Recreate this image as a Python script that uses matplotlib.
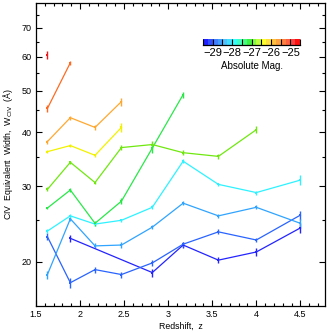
import numpy as np
import matplotlib
matplotlib.use("Agg")
import matplotlib.pyplot as plt
from matplotlib.colors import ListedColormap, BoundaryNorm
from matplotlib.ticker import FixedLocator, NullFormatter, FuncFormatter
import matplotlib.colorbar as mcolorbar

plt.rcParams['font.family'] = ['Liberation Sans', 'DejaVu Sans']

nan = np.nan
redshift = [1.63, 1.89, 2.17, 2.47, 2.82, 3.17, 3.57, 4.00, 4.50]

# absolute magnitude bins (colour) for each series
mags = [-29.25, -28.75, -28.25, -27.75, -27.25, -26.75, -26.25, -25.75, -25.25, -24.75]
series_colors = ['#2424ff', '#2a64ff', '#30a4ff', '#2ef2ff', '#28e848',
                 '#70e810', '#f2f200', '#ffa830', '#ff6a20', '#f01818']

w_darkblue = [nan, 22.7, nan, nan, 18.9, 21.9, 20.2, 21.1, 24.0]
e_darkblue = [nan, 0.4, nan, nan, 0.4, 0.3, 0.3, 0.4, 0.6]
w_blue = [22.9, 17.9, 19.2, 18.7, 19.9, 22.0, 23.5, 22.5, 25.7]
e_blue = [0.4, 0.5, 0.3, 0.3, 0.3, 0.3, 0.3, 0.3, 0.6]
w_skyblue = [18.7, 25.2, 21.8, 21.9, 24.1, 27.4, 25.6, 26.8, 24.6]
e_skyblue = [0.4, 0.3, 0.3, 0.3, 0.3, 0.3, 0.3, 0.3, 0.6]
w_cyan = [23.6, 25.6, 24.5, 25.0, 26.8, 34.3, 30.3, 29.0, 31.0]
e_cyan = [0.3, 0.3, 0.2, 0.2, 0.3, 0.4, 0.3, 0.3, 0.8]
w_green = [26.7, 29.4, 24.6, 27.7, 36.8, 49.0, nan, nan, nan]
e_green = [0.2, 0.3, 0.3, 0.4, 1.0, 0.8, nan, nan, nan]
w_lime = [29.5, 34.1, 30.6, 36.9, 37.5, 35.9, 35.2, 40.6, nan]
e_lime = [0.3, 0.3, 0.3, 0.5, 0.8, 0.5, 0.4, 0.8, nan]
w_yellow = [36.1, 37.3, 35.4, 41.1, nan, nan, nan, nan, nan]
e_yellow = [0.3, 0.3, 0.3, 1.0, nan, nan, nan, nan, nan]
w_orange = [38.1, 43.3, 41.1, 47.2, nan, nan, nan, nan, nan]
e_orange = [0.4, 0.5, 0.6, 1.0, nan, nan, nan, nan, nan]
w_orangered = [45.5, 58.1, nan, nan, nan, nan, nan, nan, nan]
e_orangered = [0.8, 0.7, nan, nan, nan, nan, nan, nan, nan]
w_red = [60.5, nan, nan, nan, nan, nan, nan, nan, nan]
e_red = [1.3, nan, nan, nan, nan, nan, nan, nan, nan]

widths = [w_darkblue, w_blue, w_skyblue, w_cyan, w_green, w_lime,
          w_yellow, w_orange, w_orangered, w_red]
errors = [e_darkblue, e_blue, e_skyblue, e_cyan, e_green, e_lime,
          e_yellow, e_orange, e_orangered, e_red]

cbar_colors = ['#2020ff', '#3050ff', '#4080ff', '#40a0ff', '#50c0ff', '#40e0ff',
               '#30ffff', '#40ffc0', '#40ff80', '#40f040', '#80ff40', '#c0ff40',
               '#ffff30', '#ffe040', '#ffc040', '#ffa040', '#ff8040', '#ff6040',
               '#ff4040', '#ff1010']
cbar_ticks = [-29, -28, -27, -26, -25]

fig = plt.figure(figsize=(3.27, 3.33), dpi=100)
ax = fig.add_axes([0.110, 0.081, 0.884, 0.910])

z = np.array(redshift)
for w, e, c in zip(widths, errors, series_colors):
    w = np.array(w, dtype=float)
    e = np.array(e, dtype=float)
    m = ~np.isnan(w)
    ax.errorbar(z[m], w[m], yerr=e[m], color=c, lw=0.9, elinewidth=1.0,
                capsize=2.0, capthick=0.9, marker='s', ms=1.6, mew=0)

ax.set_yscale('log')
ax.set_xlim(1.5, 4.78)
ax.set_ylim(15.8, 80)
ax.yaxis.set_major_locator(FixedLocator([20, 30, 40, 50, 60, 70]))
ax.yaxis.set_minor_locator(FixedLocator([25, 35, 45, 55, 65, 75]))
ax.yaxis.set_major_formatter(FuncFormatter(lambda v, p: f"{v:g}"))
ax.yaxis.set_minor_formatter(NullFormatter())
ax.xaxis.set_major_locator(FixedLocator([1.5, 2, 2.5, 3, 3.5, 4, 4.5]))
ax.xaxis.set_minor_locator(FixedLocator(np.arange(1.6, 4.8, 0.1)))
ax.xaxis.set_major_formatter(FuncFormatter(lambda v, p: f"{v:g}"))
ax.tick_params(which='both', direction='in', top=True, right=True,
               labelsize=6.5, width=0.8, pad=3)
ax.tick_params(which='major', length=4.5)
ax.tick_params(which='minor', length=2.5)
for s in ax.spines.values():
    s.set_linewidth(0.9)
ax.set_xlabel('Redshift,  z', fontsize=6.3, labelpad=2)
ax.set_ylabel(r'CIV  Equivalent  Width,  W$_{\mathrm{CIV}}$  (Å)', fontsize=6.3, labelpad=5)

cax = fig.add_axes([0.621, 0.864, 0.297, 0.019])
cmap = ListedColormap(cbar_colors)
norm = BoundaryNorm(np.linspace(-29.5, -24.5, len(cbar_colors) + 1), cmap.N)
cb = mcolorbar.ColorbarBase(cax, cmap=cmap, norm=norm, orientation='horizontal')
cb.outline.set_visible(False)
cax.spines['bottom'].set_visible(True)
cax.spines['bottom'].set_linewidth(0.9)
cax.xaxis.set_major_locator(FixedLocator(cbar_ticks))
cax.xaxis.set_minor_locator(FixedLocator(np.arange(-29.5, -24.4, 0.5)))
cax.xaxis.set_major_formatter(FuncFormatter(lambda v, p: f"\u2212{abs(v):g}"))
cax.tick_params(which='both', direction='in', labelsize=8, width=0.8, pad=2)
cax.tick_params(which='major', length=4)
cax.tick_params(which='minor', length=4)
cax.set_xlabel('Absolute Mag.', fontsize=7, labelpad=2)

fig.savefig('out.png', dpi=100)
